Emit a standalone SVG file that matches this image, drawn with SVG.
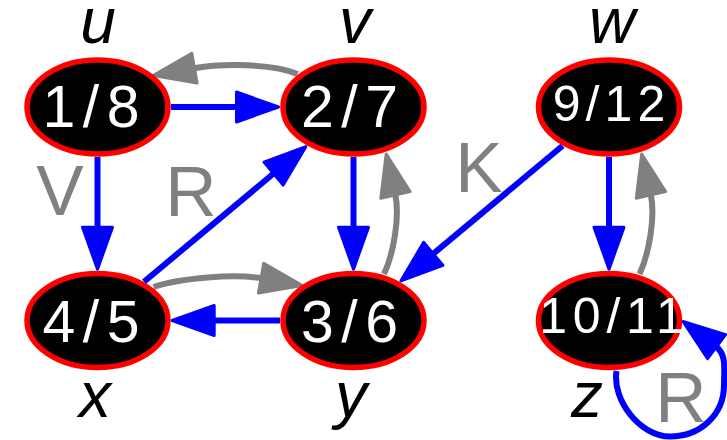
<svg xmlns="http://www.w3.org/2000/svg" width="727" height="440" viewBox="0 0 727 440">
<defs>
<style>
.node ellipse{fill:#000;stroke:#f00;stroke-width:5.5}
.num{fill:#fff;font-family:"Liberation Sans",Arial,sans-serif;text-anchor:middle}
.name{fill:#000;font-family:"Liberation Sans",Arial,sans-serif;font-style:italic;font-size:64px;text-anchor:middle}
.lbl{fill:#808080;font-family:"Liberation Sans",Arial,sans-serif;font-size:71px;text-anchor:middle}
.tree{fill:none;stroke:#00f;stroke-width:6}
.back{fill:none;stroke:#808080;stroke-width:6}
</style>
<marker id="ab" viewBox="-4 -18 50 36" refX="2" refY="0" markerWidth="50" markerHeight="36" markerUnits="userSpaceOnUse" orient="auto"><path d="M0,-15 L42,0 L0,15 Z" fill="#00f" stroke="#00f" stroke-width="3" stroke-linejoin="round"/></marker>
<marker id="ag" viewBox="-4 -18 50 36" refX="2" refY="0" markerWidth="50" markerHeight="36" markerUnits="userSpaceOnUse" orient="auto"><path d="M0,-15 L42,0 L0,15 Z" fill="#808080" stroke="#808080" stroke-width="3" stroke-linejoin="round"/></marker>
</defs>
<rect width="727" height="440" fill="#fff"/>
<g id="connectors">
<path class="tree" marker-end="url(#ab)" d="M171,107 L238.5,107"/>
<path class="tree" marker-end="url(#ab)" d="M97.5,157 L97.5,229.2"/>
<path class="tree" marker-end="url(#ab)" d="M353.5,157 L353.5,229.2"/>
<path class="tree" marker-end="url(#ab)" d="M609,157 L609,229.2"/>
<path class="tree" marker-end="url(#ab)" d="M280,320.5 L212.2,320.5"/>
<path class="tree" marker-end="url(#ab)" d="M144,281.75 L275.1,172.3"/>
<path class="tree" marker-end="url(#ab)" d="M562.6,145.8 L431.7,255.1"/>
<path class="back" marker-end="url(#ag)" d="M297.5,74 C272,63 220,63.6 192.5,68.5"/>
<path class="back" marker-end="url(#ag)" d="M153.5,287 C180,278 235,273.5 263,278.5"/>
<path class="back" marker-end="url(#ag)" d="M384,274 C393,255 400.5,217.4 395,193"/>
<path class="back" marker-end="url(#ag)" d="M639.5,274 C648.5,255 656,217.4 650.5,193"/>
<path class="tree" marker-end="url(#ab)" d="M616.5,371 C612,400 640,436.5 670,436.5 C700,436.5 724,415 724,385 C724,368 727,354.5 715,345.5"/>
<text class="lbl" x="60" y="215">V</text>
<text class="lbl" x="191" y="216">R</text>
<text class="lbl" x="479" y="191.5">K</text>
<text class="lbl" x="681" y="421.5">R</text>
</g>
<g id="node-u" class="node"><ellipse cx="97.5" cy="107" rx="70.5" ry="47"/><text class="num" x="91" y="127.3" font-size="59" textLength="97" lengthAdjust="spacing">1/8</text><text class="name" x="98" y="43.3">u</text></g>
<g id="node-v" class="node"><ellipse cx="353.5" cy="107" rx="70.5" ry="47"/><text class="num" x="349.5" y="127.3" font-size="59" textLength="97" lengthAdjust="spacing">2/7</text><text class="name" x="355" y="43.3">v</text></g>
<g id="node-w" class="node"><ellipse cx="609" cy="107" rx="70.5" ry="47"/><text class="num" x="609" y="120.7" font-size="50" textLength="112.5" lengthAdjust="spacing">9/12</text><text class="name" x="612" y="43.3">w</text></g>
<g id="node-x" class="node"><ellipse cx="97.5" cy="320.5" rx="70.5" ry="47"/><text class="num" x="91" y="341.7" font-size="59" textLength="97" lengthAdjust="spacing">4/5</text><text class="name" x="95" y="416.7">x</text></g>
<g id="node-y" class="node"><ellipse cx="353.5" cy="320.5" rx="70.5" ry="47"/><text class="num" x="349.5" y="341.7" font-size="59" textLength="97" lengthAdjust="spacing">3/6</text><text class="name" x="351" y="416.7">y</text></g>
<g id="node-z" class="node"><ellipse cx="609" cy="320.5" rx="70.5" ry="47"/><text class="num" x="611.5" y="333.3" font-size="50" textLength="144.5" lengthAdjust="spacing">10/11</text><text class="name" x="587" y="416.7">z</text></g>
</svg>
